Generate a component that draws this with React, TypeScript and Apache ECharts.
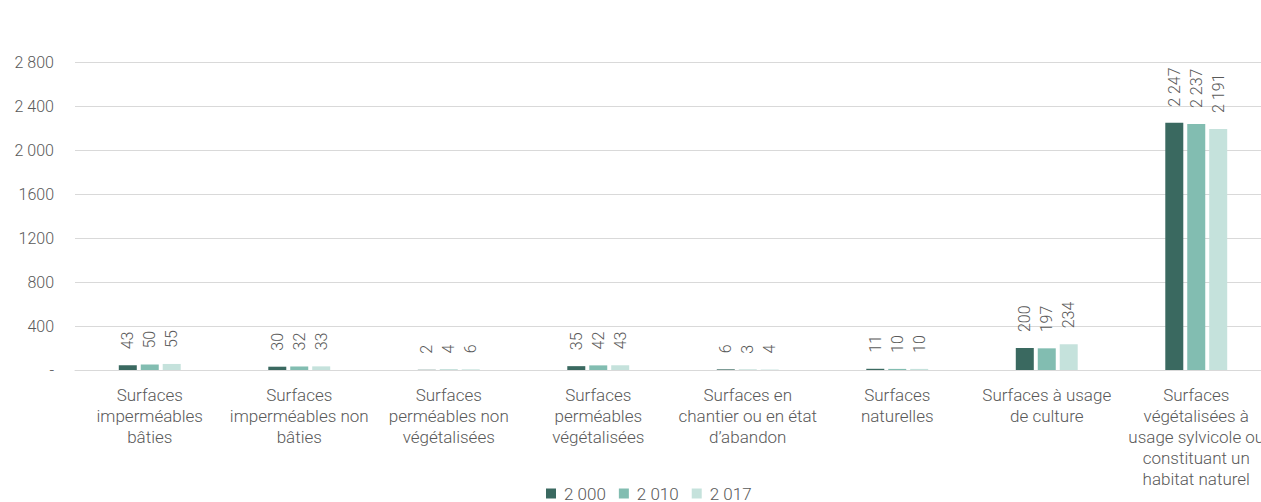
import React, { useEffect, useRef } from "react";
import * as echarts from "echarts";

const categories = [
  "Surfaces\nimperméables\nbâties",
  "Surfaces\nimperméables non\nbâties",
  "Surfaces\nperméables non\nvégétalisées",
  "Surfaces\nperméables\nvégétalisées",
  "Surfaces en\nchantier ou en état\nd’abandon",
  "Surfaces\nnaturelles",
  "Surfaces à usage\nde culture",
  "Surfaces\nvégétalisées à\nusage sylvicole ou\nconstituant un\nhabitat naturel",
];
const seriesNames = ["2 000", "2 010", "2 017"];
const values2000 = [43, 30, 2, 35, 6, 11, 200, 2247];
const values2010 = [50, 32, 4, 42, 3, 10, 197, 2237];
const values2017 = [55, 33, 6, 43, 4, 10, 234, 2191];
const yTickLabels: Record<number, string> = {
  0: "-",
  400: "400",
  800: "800",
  1200: "1200",
  1600: "1600",
  2000: "2 000",
  2400: "2 400",
  2800: "2 800",
};
const colors = ["#3a6960", "#82bdb1", "#c5e2dc"];

const fmt = (v: number) => {
  const s = String(v);
  return v >= 1000 ? s.slice(0, s.length - 3) + " " + s.slice(-3) : s;
};

export default function App() {
  const ref = useRef<HTMLDivElement>(null);
  useEffect(() => {
    document.body.style.margin = "0";
    document.body.style.overflow = "hidden";
    const chart = echarts.init(ref.current!, null, { renderer: "svg" });
    const font = "Roboto, 'Noto Sans', sans-serif";
    const all = [values2000, values2010, values2017];
    chart.setOption({
      animation: false,
      textStyle: { fontFamily: font },
      grid: {
        left: 75,
        width: 1196,
        top: 62,
        height: 308,
        containLabel: false,
        outerBoundsMode: "none",
      },
      legend: {
        top: 485,
        left: 546,
        padding: 0,
        icon: "rect",
        itemWidth: 10,
        itemHeight: 10,
        itemGap: 13,
        textStyle: {
          fontSize: 17,
          lineHeight: 16,
          fontWeight: 300,
          color: "#595959",
          fontFamily: font,
          padding: [0, 0, 0, 3],
        },
        data: seriesNames,
      },
      xAxis: {
        type: "category",
        data: categories,
        axisLine: { lineStyle: { color: "#d9d9d9" } },
        axisTick: { show: false },
        axisLabel: {
          interval: 0,
          color: "#595959",
          fontSize: 17,
          fontWeight: 300,
          lineHeight: 21,
          margin: 14,
          fontFamily: font,
        },
      },
      yAxis: {
        type: "value",
        min: 0,
        max: 2800,
        interval: 400,
        axisLine: { show: false },
        axisTick: { show: false },
        splitLine: { lineStyle: { color: "#d9d9d9" } },
        axisLabel: {
          color: "#595959",
          fontSize: 16,
          fontWeight: 300,
          margin: 21,
          fontFamily: font,
          formatter: (v: number) => yTickLabels[v] ?? String(v),
        },
      },
      series: seriesNames.map((name, i) => ({
        name,
        type: "bar",
        data: all[i],
        barWidth: 18,
        barGap: "22%",
        itemStyle: { color: colors[i] },
        label: {
          show: true,
          position: "top",
          rotate: 90,
          align: "left",
          verticalAlign: "middle",
          distance: 16,
          color: "#595959",
          fontSize: 16,
          fontWeight: 300,
          fontFamily: font,
          formatter: (p: any) => fmt(p.value),
        },
      })),
    });
    return () => chart.dispose();
  }, []);
  return <div ref={ref} style={{ width: 1261, height: 502 }} />;
}
